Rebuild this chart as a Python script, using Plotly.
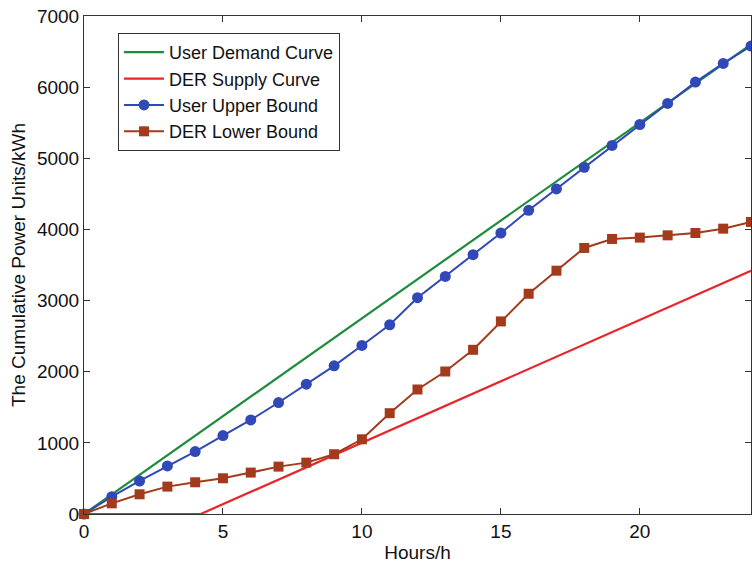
import plotly.graph_objects as go

hours = list(range(25))
user_upper = [0, 243, 464, 676, 877, 1102, 1323, 1567, 1825, 2083, 2369, 2660, 3040,
              3340, 3645, 3950, 4269, 4570, 4874, 5180, 5475, 5771, 6071, 6334, 6577]
der_lower = [0, 150, 277, 385, 446, 502, 582, 666, 722, 840, 1050, 1417, 1750,
             2003, 2308, 2707, 3096, 3420, 3740, 3866, 3885, 3917, 3950, 4011, 4105]
demand_x = [0, 24]
demand_y = [0, 6600]
supply_x = [0, 4.2, 24]
supply_y = [0, 0, 3420]

FONT = "Liberation Sans, Arial, sans-serif"

fig = go.Figure()
fig.add_trace(go.Scatter(x=demand_x, y=demand_y, mode="lines", name="User Demand Curve",
                         line=dict(color="#1E8C3C", width=2.2), cliponaxis=False))
fig.add_trace(go.Scatter(x=supply_x, y=supply_y, mode="lines", name="DER Supply Curve",
                         line=dict(color="#E8252B", width=2.2), cliponaxis=False))
fig.add_trace(go.Scatter(x=hours, y=user_upper, mode="lines+markers", name="User Upper Bound",
                         line=dict(color="#3048B8", width=2),
                         marker=dict(symbol="circle", size=11, color="#3048B8"), cliponaxis=False))
fig.add_trace(go.Scatter(x=hours, y=der_lower, mode="lines+markers", name="DER Lower Bound",
                         line=dict(color="#A33A1C", width=2),
                         marker=dict(symbol="square", size=10, color="#A33A1C"), cliponaxis=False))

axis_common = dict(showline=True, linecolor="#333333", linewidth=1, mirror="allticks",
                   ticks="inside", ticklen=6, tickcolor="#333333", showgrid=False,
                   zeroline=False, automargin=False, ticklabeloverflow="allow",
                   tickfont=dict(family=FONT, size=19, color="#111"),
                   title_font=dict(family=FONT, size=19, color="#111"))

fig.update_xaxes(range=[0, 24], tickvals=[0, 5, 10, 15, 20], title_text="Hours/h",
                 title_standoff=4, **axis_common)
fig.update_yaxes(range=[0, 7000], tickvals=[0, 1000, 2000, 3000, 4000, 5000, 6000, 7000],
                 title_text="The Cumulative Power Units/kWh", title_standoff=6, **axis_common)

fig.update_layout(
    width=752, height=568,
    margin=dict(l=84, r=1, t=16, b=54),
    paper_bgcolor="white", plot_bgcolor="white",
    font=dict(family=FONT, size=19, color="#111"),
    legend=dict(x=0.051, y=0.966, xanchor="left", yanchor="top",
                bgcolor="white", bordercolor="#333333", borderwidth=1,
                font=dict(family=FONT, size=18, color="#111"),
                tracegroupgap=0, itemwidth=40),
    showlegend=True,
)

fig.write_html("out.html",
               config={"displayModeBar": False},
               post_script="document.body.style.margin='0';document.body.style.overflow='hidden';")
